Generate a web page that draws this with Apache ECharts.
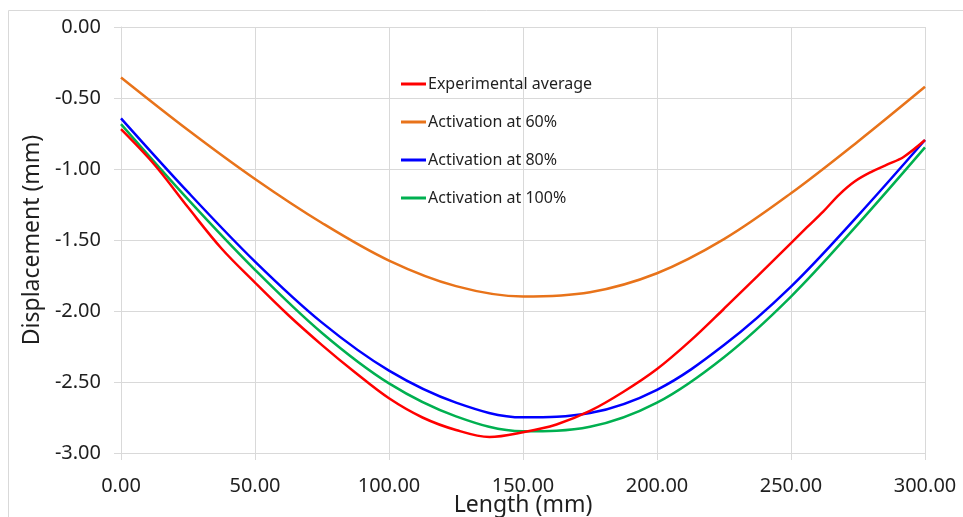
<!DOCTYPE html>
<html>
<head>
<meta charset="utf-8">
<script src="https://cdn.jsdelivr.net/npm/echarts@6/dist/echarts.min.js"></script>
<style>
  html, body { margin: 0; padding: 0; background: #fff; }
  #chart { width: 963px; height: 517px; }
</style>
</head>
<body>
<div id="chart"></div>
<script>
// tick values
const xTicks = [0, 50, 100, 150, 200, 250, 300]
const yTicks = [0, -0.5, -1, -1.5, -2, -2.5, -3]

// experimental average (red); finer near the bump at the right end
const expLength = [0, 12.5, 25, 37.5, 50, 62.5, 75, 87.5, 100, 112.5, 125, 137.5, 150, 162.5, 175, 187.5, 200, 212.5, 225, 237.5, 250, 256, 262, 268, 274, 280, 286, 292, 300]
const expDisp = [-0.72, -0.97, -1.27, -1.56, -1.80, -2.03, -2.24, -2.435, -2.615, -2.75, -2.838, -2.887, -2.854, -2.799, -2.704, -2.569, -2.409, -2.209, -1.984, -1.754, -1.522, -1.41, -1.30, -1.18, -1.085, -1.02, -0.968, -0.915, -0.796]

// simulated curves, sampled every 25 mm
const simLength = [0, 25, 50, 75, 100, 125, 150, 175, 200, 225, 250, 275, 300]
const act60 = [-0.355, -0.725, -1.07, -1.38, -1.645, -1.825, -1.898, -1.868, -1.734, -1.494, -1.171, -0.806, -0.421]
const act80 = [-0.643, -1.163, -1.652, -2.082, -2.42, -2.645, -2.749, -2.719, -2.555, -2.24, -1.828, -1.328, -0.796]
const act100 = [-0.684, -1.214, -1.71, -2.155, -2.51, -2.742, -2.847, -2.815, -2.645, -2.325, -1.898, -1.388, -0.848]

const seriesNames = ['Experimental average', 'Activation at 60%', 'Activation at 80%', 'Activation at 100%']
const seriesColors = ['#ff0000', '#e8731a', '#0000ff', '#00b050']

const zip = (xs, ys) => xs.map((x, i) => [x, ys[i]])
const seriesData = [
  zip(expLength, expDisp),
  zip(simLength, act60),
  zip(simLength, act80),
  zip(simLength, act100),
]

const font = '"Noto Sans", "Open Sans", sans-serif'
const gridColor = '#d9d9d9'
const textColor = '#1f1f1f'

const chart = echarts.init(document.getElementById('chart'))
chart.setOption({
  animation: false,
  textStyle: { fontFamily: font, color: textColor },
  graphic: [
    {
      type: 'rect',
      z: -10,
      shape: { x: 8.5, y: 10.5, width: 1000, height: 600 },
      style: { fill: 'none', stroke: gridColor, lineWidth: 1 },
    },
  ],
  grid: {
    left: 121,
    right: 38,
    top: 27,
    bottom: 64,
    outerBoundsMode: 'none',
  },
  legend: {
    orient: 'vertical',
    left: 396,
    top: 70,
    itemGap: 20,
    itemWidth: 25,
    itemHeight: 3,
    icon: 'rect',
    data: seriesNames,
    textStyle: {
      fontFamily: font,
      fontSize: 16,
      lineHeight: 18,
      color: textColor,
      padding: [0, 0, 0, -3],
    },
  },
  xAxis: {
    type: 'value',
    min: xTicks[0],
    max: xTicks[xTicks.length - 1],
    interval: 50,
    name: 'Length (mm)',
    nameLocation: 'middle',
    nameGap: 41,
    nameMoveOverlap: false,
    nameTextStyle: { fontFamily: font, fontSize: 23, color: textColor },
    axisLine: { show: true, onZero: false, lineStyle: { color: gridColor } },
    axisTick: { show: true, length: 7, lineStyle: { color: gridColor } },
    axisLabel: {
      margin: 23,
      fontFamily: font,
      fontSize: 20,
      color: textColor,
      formatter: (v) => v.toFixed(2),
    },
    splitLine: { show: true, lineStyle: { color: gridColor } },
  },
  yAxis: {
    type: 'value',
    min: yTicks[yTicks.length - 1],
    max: yTicks[0],
    interval: 0.5,
    name: 'Displacement (mm)',
    nameLocation: 'middle',
    nameGap: 76,
    nameTextStyle: { fontFamily: font, fontSize: 23, color: textColor },
    axisLine: { show: true, onZero: false, lineStyle: { color: gridColor } },
    axisTick: { show: true, length: 7, lineStyle: { color: gridColor } },
    axisLabel: {
      margin: 20,
      fontFamily: font,
      fontSize: 20,
      color: textColor,
      formatter: (v) => v.toFixed(2),
    },
    splitLine: { show: true, lineStyle: { color: gridColor } },
  },
  series: seriesNames.map((name, i) => ({
    name,
    type: 'line',
    data: seriesData[i],
    smooth: 0.35,
    showSymbol: false,
    color: seriesColors[i],
    lineStyle: { color: seriesColors[i], width: 2.5 },
    z: 10 - i,
  })),
})
</script>
</body>
</html>
